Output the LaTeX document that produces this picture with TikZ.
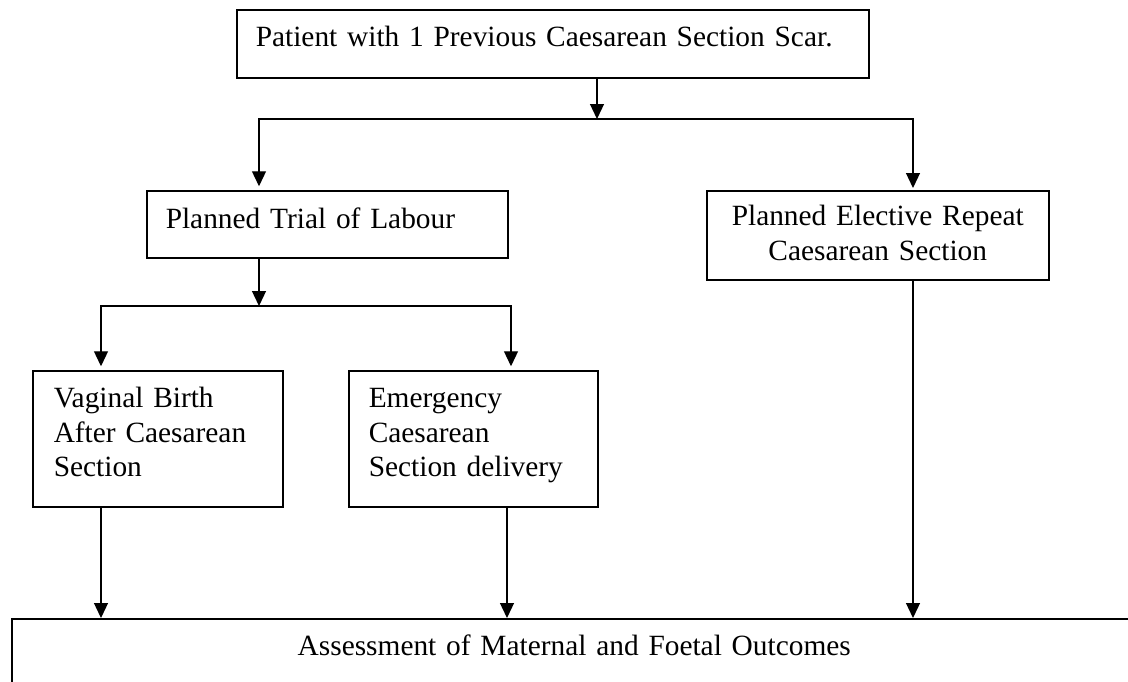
\documentclass[tikz,border=0pt]{standalone}
\usepackage{fontspec}
\setmainfont{Liberation Serif}
\usetikzlibrary{arrows.meta}

\begin{document}
\begin{tikzpicture}[x=0.4pt, y=-0.4pt]
    % Node styles
    \tikzset{box node/.style={draw, line width=0.6pt, rectangle, anchor=north west, inner ysep=0pt,
        font=\fontsize{11.75pt}{13.8pt}\selectfont},
      left text/.style={align=left},
      mid text/.style={align=center},
      arrow line/.style={line width=0.5pt, -{Triangle[width=5.6pt,length=6pt]}}}

    \useasboundingbox (0,0) rectangle (1128,681);
    \clip (0,0) rectangle (1128,681);

    % --- Level 0: Patient ---
    \node[box node, left text, inner xsep=7.6pt, text width=237.6pt, text height=14.8pt, text depth=12.4pt]
      (scar) at (236,9) {Patient with 1 Previous Caesarean Section Scar.};

    % --- Level 1: Planned mode of delivery ---
    \node[box node, left text, inner xsep=7.6pt, text width=129.2pt, text height=15.2pt, text depth=11.6pt]
      (tol) at (146,190) {Planned Trial of Labour};
    \node[box node, mid text, inner xsep=4pt, text width=128.8pt, text height=14pt, text depth=21.6pt]
      (ercs) at (706,190) {Planned Elective Repeat\\Caesarean Section};

    % --- Level 2: Outcome of trial of labour ---
    \node[box node, left text, inner xsep=8.4pt, text width=83.2pt, text height=14.8pt, text depth=39.6pt]
      (vbac) at (32,370) {Vaginal Birth\\After Caesarean\\Section};
    \node[box node, left text, inner xsep=8pt, text width=83.6pt, text height=14.8pt, text depth=39.6pt]
      (emcs) at (348,370) {Emergency\\Caesarean\\Section delivery};

    % --- Level 3: Assessment (runs off the page) ---
    \node[box node, mid text, inner xsep=4pt, text width=442pt, text height=14.8pt, text depth=40pt]
      (outcome) at (11,618) {Assessment of Maternal and Foetal Outcomes};

    % Arrow columns and split rows
    \coordinate (xa) at (597,0);
    \coordinate (xb) at (259,0);
    \coordinate (xc) at (913,0);
    \coordinate (xd) at (101,0);
    \coordinate (xe) at (511,0);
    \coordinate (xf) at (507,0);
    \coordinate (ya) at (0,119);
    \coordinate (yb) at (0,306);

    % Edges from patient box
    \draw[arrow line] (scar.south -| xa) -- (xa |- ya);
    \draw[arrow line, shorten >=1.5pt] (xa |- ya) -| (tol.north -| xb);
    \draw[arrow line, shorten >=0.8pt] (xa |- ya) -| (ercs.north -| xc);

    % Edges from trial of labour
    \draw[arrow line] (tol.south -| xb) -- (xb |- yb);
    \draw[arrow line, shorten >=1.5pt] (xb |- yb) -| (vbac.north -| xd);
    \draw[arrow line, shorten >=1.5pt] (xb |- yb) -| (emcs.north -| xe);

    % Edges into assessment
    \draw[arrow line] (vbac.south -| xd) -- (outcome.north -| xd);
    \draw[arrow line] (emcs.south -| xf) -- (outcome.north -| xf);
    \draw[arrow line] (ercs.south -| xc) -- (outcome.north -| xc);

\end{tikzpicture}
\end{document}
